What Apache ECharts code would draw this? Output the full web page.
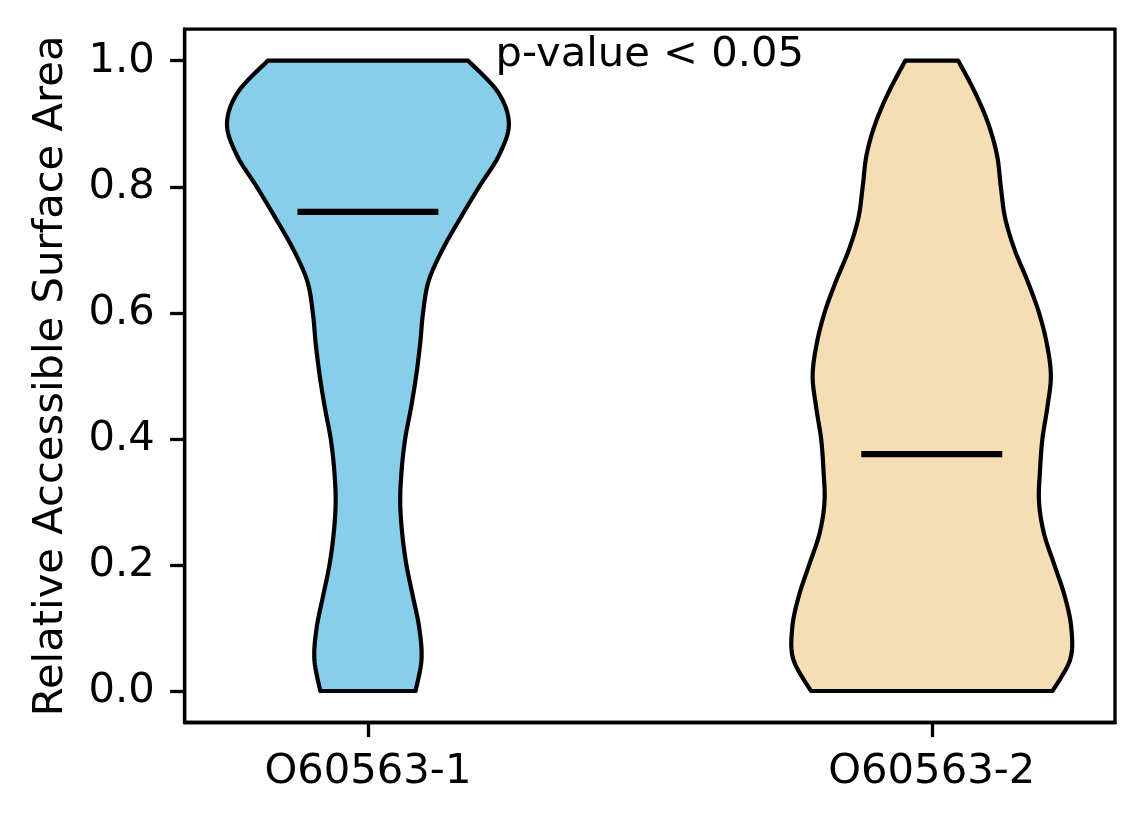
<!DOCTYPE html>
<html>
<head>
<meta charset="utf-8">
<script src="https://cdn.jsdelivr.net/npm/echarts@6/dist/echarts.min.js"></script>
<style>
  html, body { margin: 0; padding: 0; background: #ffffff; }
  #chart { width: 1144px; height: 824px; }
</style>
</head>
<body>
<div id="chart"></div>
<script>
// ---- Data ----
const categories = ['O60563-1', 'O60563-2'];
const yTicks = [0.0, 0.2, 0.4, 0.6, 0.8, 1.0];
// y positions at which the violin outlines were read
const densityY = [0.00, 0.05, 0.10, 0.15, 0.20, 0.25, 0.30, 0.35, 0.40, 0.45, 0.50,
                  0.55, 0.60, 0.65, 0.70, 0.75, 0.80, 0.85, 0.90, 0.95, 1.00];
// half-width of each violin relative to its widest point (0..1)
const violin1Density = [0.338, 0.380, 0.364, 0.319, 0.273, 0.243, 0.229, 0.239, 0.264, 0.306, 0.342,
                        0.370, 0.391, 0.430, 0.528, 0.655, 0.789, 0.930, 1.000, 0.923, 0.711];
const violin2Density = [0.857, 0.982, 0.990, 0.944, 0.870, 0.796, 0.761, 0.768, 0.785, 0.820, 0.845,
                        0.817, 0.761, 0.680, 0.588, 0.521, 0.490, 0.463, 0.401, 0.306, 0.188];
const medians = [0.760, 0.376];
const fillColors = ['#87CEEB', '#F5DEB3'];
const annotationText = 'p-value < 0.05';
const yAxisTitle = 'Relative Accessible Surface Area';

// ---- Rendering ----
const densities = [violin1Density, violin2Density];
const HALF = 0.25;             // half of violin width (width 0.5)
const FONT = 'DejaVu Sans';
const FS = 41.7;

function catmullRom(p) {
  const out = [];
  const n = p.length;
  const SUB = 12;
  for (let i = 0; i < n - 1; i++) {
    const p0 = p[Math.max(i - 1, 0)], p1 = p[i], p2 = p[i + 1], p3 = p[Math.min(i + 2, n - 1)];
    for (let s = 0; s < SUB; s++) {
      const t = s / SUB, t2 = t * t, t3 = t2 * t;
      out.push([0, 1].map(d => 0.5 * (2 * p1[d] + (-p0[d] + p2[d]) * t +
        (2 * p0[d] - 5 * p1[d] + 4 * p2[d] - p3[d]) * t2 +
        (-p0[d] + 3 * p1[d] - 3 * p2[d] + p3[d]) * t3)));
    }
  }
  out.push(p[n - 1]);
  return out;
}

function renderViolin(params, api) {
  const i = params.dataIndex;
  const xc = api.value(0);
  const dens = densities[i];
  const right = densityY.map((y, k) => api.coord([xc + dens[k] * HALF, y]));
  const left = densityY.map((y, k) => api.coord([xc - dens[k] * HALF, y]));
  const pts = catmullRom(right).concat(catmullRom(left).reverse());
  const med = api.value(1);
  const m1 = api.coord([xc - HALF / 2, med]);
  const m2 = api.coord([xc + HALF / 2, med]);
  return {
    type: 'group',
    children: [
      { type: 'polygon', shape: { points: pts },
        style: { fill: fillColors[i], stroke: '#000', lineWidth: 4.2, lineJoin: 'round' } },
      { type: 'line', shape: { x1: m1[0], y1: m1[1], x2: m2[0], y2: m2[1] },
        style: { stroke: '#000', lineWidth: 6.25, lineCap: 'butt' } }
    ]
  };
}

function renderAnnotation(params, api) {
  const p = api.coord([api.value(0), api.value(1)]);
  return {
    type: 'text', x: p[0], y: p[1] - 6,
    style: { text: annotationText, fontFamily: FONT, fontSize: FS, fill: '#000',
             align: 'center', verticalAlign: 'middle' }
  };
}

const chart = echarts.init(document.getElementById('chart'), null, { renderer: 'canvas' });
chart.setOption({
  animation: false,
  backgroundColor: '#ffffff',
  grid: { left: 184.7, right: 29, top: 29.2, bottom: 101.5, show: true,
          borderColor: '#000', borderWidth: 3.3, backgroundColor: 'transparent' },
  xAxis: {
    type: 'value', min: 0.675, max: 2.325,
    splitLine: { show: false },
    axisLine: { show: true, onZero: false, lineStyle: { color: '#000', width: 3.3 } },
    axisTick: { show: true, customValues: [1, 2], length: 14.6, lineStyle: { color: '#000', width: 3.3 } },
    axisLabel: { show: true, customValues: [1, 2], margin: 28.5,
                 formatter: v => categories[Math.round(v) - 1],
                 fontFamily: FONT, fontSize: FS, color: '#000' }
  },
  yAxis: {
    type: 'value', min: -0.05, max: 1.05,
    name: yAxisTitle, nameLocation: 'middle', nameGap: 113,
    nameTextStyle: { fontFamily: FONT, fontSize: FS, color: '#000' },
    splitLine: { show: false },
    axisLine: { show: true, onZero: false, lineStyle: { color: '#000', width: 3.3 } },
    axisTick: { show: true, customValues: yTicks, length: 14.6, lineStyle: { color: '#000', width: 3.3 } },
    axisLabel: { show: true, customValues: yTicks, margin: 30,
                 formatter: v => v.toFixed(1),
                 fontFamily: FONT, fontSize: FS, color: '#000' }
  },
  series: [
    { type: 'custom', renderItem: renderViolin, clip: false,
      data: categories.map((c, i) => [i + 1, medians[i]]) },
    { type: 'custom', renderItem: renderAnnotation, clip: false,
      data: [[1.5, 1.0]] }
  ]
});
</script>
</body>
</html>
